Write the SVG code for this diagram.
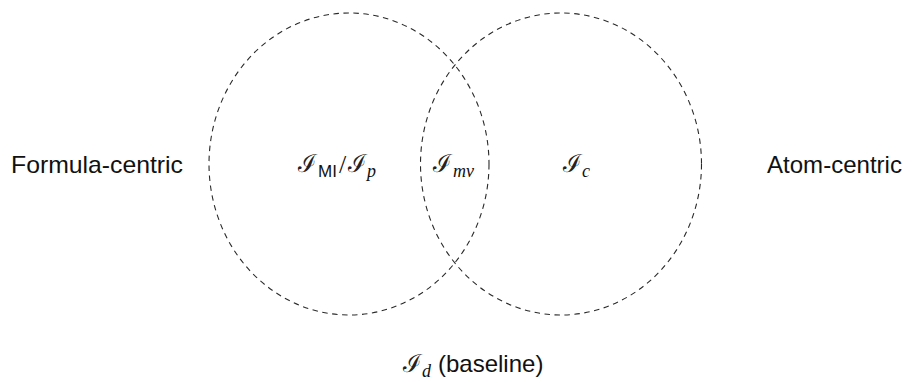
<svg xmlns="http://www.w3.org/2000/svg" width="912" height="383" viewBox="0 0 912 383">
<style>
.c{fill:none;stroke:#2a2a2a;stroke-width:1.1;stroke-dasharray:5.5 4.5}
.s{font-family:"Liberation Sans","DejaVu Sans",sans-serif;font-size:24px;fill:#111}
.m{font-family:"Liberation Serif",serif;font-size:25px;fill:#222}
.i{font-family:"Liberation Serif",serif;font-style:italic;font-size:18px;fill:#111}
.u{font-family:"Liberation Sans",sans-serif;font-size:17px;fill:#111}
.sl{font-family:"Liberation Serif",serif;font-size:26px;fill:#111}
</style>
<g id="connectors"></g>
<g id="formula-circle">
<ellipse class="c" cx="349" cy="164" rx="140" ry="151"/>
</g>
<g id="atom-circle">
<ellipse class="c" cx="561" cy="164" rx="140.5" ry="151"/>
</g>
<g id="formula-label"><text class="s" x="11" y="173" textLength="172" lengthAdjust="spacingAndGlyphs">Formula-centric</text></g>
<g id="atom-label"><text class="s" x="767" y="173" textLength="135" lengthAdjust="spacingAndGlyphs">Atom-centric</text></g>
<g id="mi-label">
<text class="m" x="298" y="172">ℐ</text>
<text class="u" x="318" y="177">MI</text>
<text class="sl" x="339" y="173">/</text>
<text class="m" x="348" y="172">ℐ</text>
<text class="i" x="367" y="177">p</text>
</g>
<g id="mv-label">
<text class="m" x="433" y="172">ℐ</text>
<text class="i" x="453" y="177">mv</text>
</g>
<g id="c-label">
<text class="m" x="563" y="172">ℐ</text>
<text class="i" x="582" y="177">c</text>
</g>
<g id="d-label">
<text class="m" x="403" y="372">ℐ</text>
<text class="i" x="422" y="377">d</text>
<text class="s" x="438" y="372">(baseline)</text>
</g>
</svg>
